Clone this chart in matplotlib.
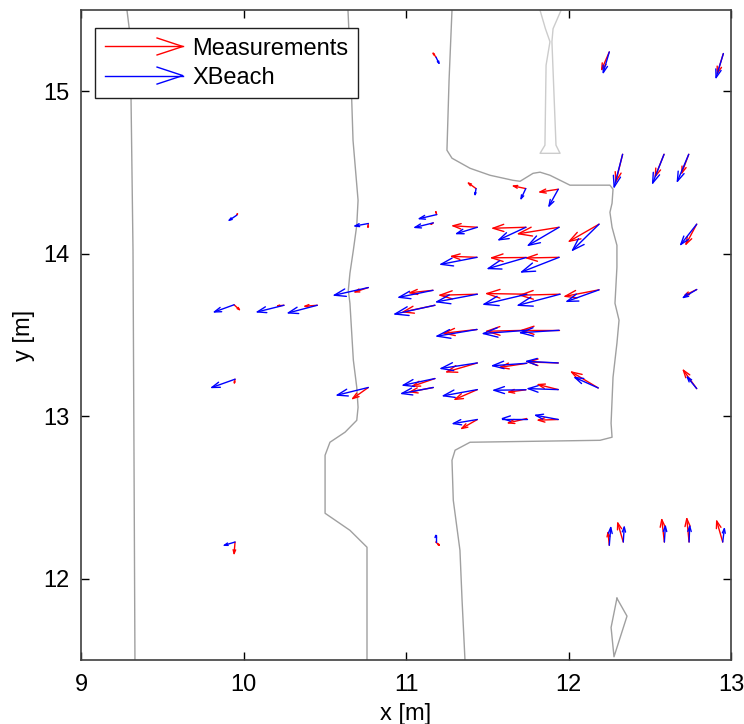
import numpy as np
import matplotlib
matplotlib.use("Agg")
import matplotlib.pyplot as plt
from matplotlib.collections import LineCollection
from matplotlib.lines import Line2D
from matplotlib.legend_handler import HandlerBase

plt.rcParams['font.family'] = ['Liberation Sans', 'DejaVu Sans']

# station positions [m]
x_st = [11.185, 12.251, 12.953, 12.333, 12.588, 12.740, 11.431, 11.737, 11.937,
        9.958, 10.768, 11.189, 11.168, 11.439, 11.738, 11.942, 12.188, 12.789,
        11.437, 11.740, 11.942, 9.942, 10.249, 10.454, 10.768, 11.166, 11.178,
        11.439, 11.743, 11.948, 12.188, 12.789, 11.437, 11.743, 11.942, 9.948,
        10.768, 11.178, 11.168, 11.439, 11.743, 11.937, 11.439, 11.738, 11.937,
        12.183, 12.789, 11.439, 11.743, 11.937, 9.948, 11.183, 12.251, 12.337,
        12.590, 12.742, 12.949]
y_st = [15.209, 15.242, 15.232, 14.612, 14.612, 14.612, 14.401, 14.401, 14.397,
        14.237, 14.186, 14.241, 14.190, 14.163, 14.163, 14.163, 14.182, 14.182,
        13.978, 13.977, 13.978, 13.686, 13.683, 13.683, 13.792, 13.775, 13.683,
        13.751, 13.751, 13.751, 13.778, 13.780, 13.534, 13.529, 13.529, 13.228,
        13.177, 13.232, 13.177, 13.328, 13.326, 13.328, 13.164, 13.163, 13.164,
        13.174, 13.170, 12.980, 12.986, 12.980, 12.226, 12.226, 12.206, 12.226,
        12.226, 12.226, 12.226]

# measured velocity vectors (plot units)
u_meas = [-0.018, -0.047, -0.037, -0.041, -0.054, -0.043, -0.047, -0.076, -0.113,
          0.005, -0.002, -0.006, -0.014, -0.150, -0.203, -0.250, -0.183, -0.066,
          -0.156, -0.213, -0.199, 0.033, -0.039, -0.076, -0.082, -0.142, -0.195,
          -0.230, -0.246, -0.246, -0.209, -0.072, -0.203, -0.246, -0.230, -0.004,
          -0.096, -0.138, -0.143, -0.188, -0.164, -0.186, -0.137, -0.105, -0.123,
          -0.164, -0.082, -0.096, -0.113, -0.123, -0.006, 0.022, -0.008, -0.034,
          -0.016, -0.014, -0.037]
v_meas = [0.025, -0.108, -0.121, -0.166, -0.135, -0.115, 0.034, 0.016, -0.017,
          0.009, -0.023, 0.018, -0.008, 0.009, -0.006, -0.040, -0.105, -0.123,
          0.006, -0.002, -0.004, -0.030, -0.004, -0.006, -0.027, -0.015, -0.041,
          -0.006, 0.004, -0.006, -0.040, -0.035, -0.023, -0.006, 0.000, -0.023,
          -0.068, -0.047, -0.027, -0.055, -0.025, 0.006, -0.060, -0.014, 0.031,
          0.098, 0.113, -0.055, -0.027, -0.004, -0.071, -0.020, 0.078, 0.117,
          0.138, 0.144, 0.129]

# XBeach velocity vectors
u_xb = [0.018, -0.037, -0.045, -0.052, -0.070, -0.070, -0.006, -0.029, -0.057,
        -0.046, -0.082, -0.107, -0.113, -0.127, -0.166, -0.189, -0.163, -0.098,
        -0.222, -0.234, -0.230, -0.121, -0.164, -0.178, -0.209, -0.209, -0.246,
        -0.250, -0.263, -0.257, -0.197, -0.082, -0.246, -0.267, -0.237, -0.143,
        -0.191, -0.195, -0.194, -0.223, -0.210, -0.194, -0.209, -0.197, -0.185,
        -0.143, -0.058, -0.148, -0.150, -0.139, -0.066, 0.000, 0.009, 0.006,
        0.006, 0.004, 0.010]
v_xb = [-0.037, -0.127, -0.148, -0.201, -0.177, -0.166, -0.037, -0.062, -0.103,
        -0.031, -0.015, -0.025, -0.028, -0.039, -0.077, -0.111, -0.160, -0.125,
        -0.043, -0.068, -0.090, -0.044, -0.041, -0.047, -0.047, -0.043, -0.054,
        -0.047, -0.062, -0.068, -0.071, -0.049, -0.041, -0.020, -0.015, -0.051,
        -0.047, -0.041, -0.037, -0.034, -0.015, 0.010, -0.038, -0.003, 0.006,
        0.064, 0.071, -0.025, 0.000, 0.026, -0.020, 0.041, 0.109, 0.092,
        0.097, 0.097, 0.082]

# depth contours
cA_x = [9.283, 9.302, 9.308, 9.320, 9.326, 9.332]
cA_y = [15.498, 15.345, 14.945, 14.022, 12.791, 11.498]

cB_x = [10.643, 10.662, 10.674, 10.705, 10.697, 10.676, 10.655, 10.645, 10.655,
        10.666, 10.676, 10.697, 10.705, 10.697, 10.625, 10.532, 10.502, 10.502,
        10.655, 10.760, 10.760]
cB_y = [15.498, 15.068, 14.698, 14.329, 14.175, 14.022, 13.880, 13.775, 13.695,
        13.511, 13.345, 13.178, 13.055, 12.975, 12.902, 12.840, 12.760, 12.403,
        12.298, 12.194, 11.498]

cC_x = [11.283, 11.265, 11.252, 11.283, 11.394, 11.517, 11.658, 11.702, 11.782,
        11.825, 11.886, 12.009, 12.255, 12.274, 12.268, 12.255, 12.268, 12.298,
        12.298, 12.286, 12.311, 12.298, 12.274, 12.268, 12.262, 12.268, 12.194,
        11.394, 11.302, 11.283, 11.291, 11.332, 11.345, 11.363]
cC_y = [15.498, 15.068, 14.637, 14.588, 14.526, 14.483, 14.452, 14.446, 14.495,
        14.502, 14.483, 14.422, 14.422, 14.397, 14.311, 14.255, 14.163, 14.052,
        13.917, 13.695, 13.591, 13.449, 13.240, 13.098, 12.957, 12.871, 12.852,
        12.840, 12.791, 12.729, 12.483, 12.175, 11.868, 11.498]

# narrow trough near x = 11.9
cD_x = [11.825, 11.858, 11.886, 11.862, 11.855, 11.825, 11.948, 11.923, 11.898,
        11.905, 11.954]
cD_y = [15.498, 15.385, 15.305, 15.160, 14.668, 14.618, 14.618, 14.668, 15.305,
        15.385, 15.498]

# small closed contour near x = 12.3
cE_x = [12.298, 12.360, 12.280, 12.262, 12.298]
cE_y = [11.880, 11.770, 11.520, 11.700, 11.880]


def quiver_lines(ax, x, y, u, v, color):
    # shaft plus two head barbs, head length 0.33 and width 0.33 of the arrow
    x, y, u, v = map(np.asarray, (x, y, u, v))
    alpha, beta = 0.33, 0.33
    segs = []
    for xi, yi, ui, vi in zip(x, y, u, v):
        tx, ty = xi + ui, yi + vi
        segs.append([(xi, yi), (tx, ty)])
        segs.append([(tx - alpha * (ui + beta * vi), ty - alpha * (vi - beta * ui)),
                     (tx, ty),
                     (tx - alpha * (ui - beta * vi), ty - alpha * (vi + beta * ui))])
    lc = LineCollection(segs, colors=color, linewidths=1.0, capstyle='round',
                        joinstyle='round')
    ax.add_collection(lc)
    return lc


class ArrowHandler(HandlerBase):
    def create_artists(self, legend, orig_handle, xdescent, ydescent,
                       width, height, fontsize, trans):
        x0, x1 = -xdescent, width - xdescent
        y0 = height / 2 - ydescent
        L = x1 - x0
        hx = x1 - 0.33 * L
        hy = 0.33 * 0.33 * L
        shaft = Line2D([x0, x1], [y0, y0])
        head = Line2D([hx, x1, hx], [y0 + hy, y0, y0 - hy])
        for ln in (shaft, head):
            ln.set_color(orig_handle.get_color())
            ln.set_linewidth(1.0)
            ln.set_transform(trans)
        return [shaft, head]


fig = plt.figure(figsize=(7.44, 7.24), dpi=100)
ax = fig.add_axes([81 / 744, 1 - 660 / 724, 650 / 744, 650 / 724])

grey = '#a0a0a0'
ax.plot(cA_x, cA_y, color=grey, lw=1.0)
ax.plot(cB_x, cB_y, color=grey, lw=1.0)
ax.plot(cC_x, cC_y, color=grey, lw=1.0)
ax.plot(cD_x, cD_y, color='#cccccc', lw=1.0)
ax.plot(cE_x, cE_y, color=grey, lw=1.0)

quiver_lines(ax, x_st, y_st, u_meas, v_meas, '#ff0000')
quiver_lines(ax, x_st, y_st, u_xb, v_xb, '#0000ff')

ax.set_xlim(9, 13)
ax.set_ylim(11.5, 15.5)
ax.set_xticks([9, 10, 11, 12, 13])
ax.set_yticks([12, 13, 14, 15])
ax.tick_params(direction='in', top=True, right=True, length=6, width=1,
               labelsize=17)
ax.tick_params(axis='x', pad=10)
ax.tick_params(axis='y', pad=8)
for s in ax.spines.values():
    s.set_linewidth(1.2)
    s.set_color('#404040')

ax.set_xlabel('x [m]', fontsize=17, labelpad=5)
ax.set_ylabel('y [m]', fontsize=17, labelpad=6)

h_meas = Line2D([], [], color='#ff0000')
h_xb = Line2D([], [], color='#0000ff')
leg = ax.legend([h_meas, h_xb], ['Measurements', 'XBeach'],
                handler_map={Line2D: ArrowHandler()},
                loc='upper left', bbox_to_anchor=(0.004, 0.99),
                fontsize=17, handlelength=3.3, handletextpad=0.4,
                borderpad=0.4, labelspacing=0.3,
                fancybox=False, framealpha=1, edgecolor='#202020')
leg.get_frame().set_linewidth(1.0)

fig.savefig('out.png', dpi=100)
